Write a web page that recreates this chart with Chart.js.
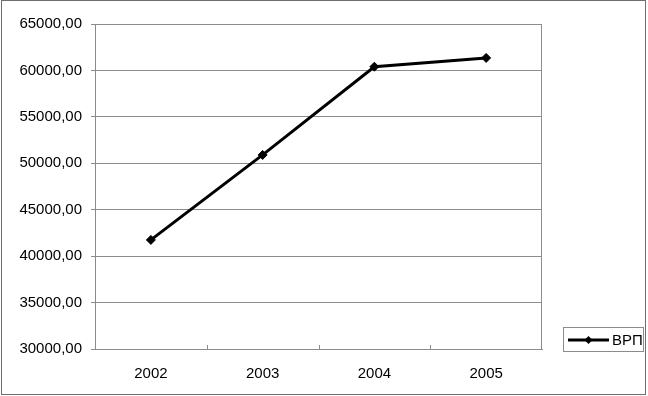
<!DOCTYPE html>
<html lang="ru">
<head>
  <meta charset="UTF-8">
  <title>ВРП</title>
  <script src="https://cdn.jsdelivr.net/npm/chart.js"></script>
  <style>
    html, body { margin: 0; padding: 0; background: #fff; }
    canvas { display: block; }
  </style>
</head>
<body>
  <canvas id="vrpChart" width="648" height="396"></canvas>

  <script>
    // data
    const years = ['2002', '2003', '2004', '2005'];
    const vrp = [41750, 50900, 60400, 61350];
    const seriesName = 'ВРП';

    const FONT = '"Liberation Sans", Arial, sans-serif';
    const GRID = '#8c8c8c';

    // frame round the whole picture, plot-area right edge, inner x ticks, boxed legend
    const extras = {
      id: 'extras',
      beforeDraw(chart) {
        const c = chart.ctx;
        c.save();
        c.fillStyle = '#fff';
        c.fillRect(0, 0, chart.width, chart.height);
        c.restore();
      },
      afterDraw(chart) {
        const c = chart.ctx;
        const x = chart.scales.x;
        const area = chart.chartArea;
        c.save();
        c.strokeStyle = '#6e6e6e';
        c.lineWidth = 1;
        c.strokeRect(1.5, 0.5, 644, 394);

        // right edge of the plot area
        c.strokeStyle = GRID;
        const rx = Math.round(area.right) - 0.5;
        c.beginPath();
        c.moveTo(rx, area.top);
        c.lineTo(rx, area.bottom);
        c.stroke();

        // small ticks between categories, pointing up
        const n = years.length;
        for (let i = 1; i < n; i++) {
          const px = Math.round((x.getPixelForValue(i - 1) + x.getPixelForValue(i)) / 2) + 0.5;
          c.beginPath();
          c.moveTo(px, x.top);
          c.lineTo(px, x.top - 4);
          c.stroke();
        }

        // legend
        c.strokeStyle = '#8c8c8c';
        c.strokeRect(563.5, 327.5, 80, 24);
        c.strokeStyle = '#000';
        c.lineWidth = 3;
        c.beginPath();
        c.moveTo(568, 340);
        c.lineTo(609, 340);
        c.stroke();
        c.fillStyle = '#000';
        c.beginPath();
        c.moveTo(588.5, 336);
        c.lineTo(592.5, 340);
        c.lineTo(588.5, 344);
        c.lineTo(584.5, 340);
        c.closePath();
        c.fill();
        c.font = '15px ' + FONT;
        c.textBaseline = 'middle';
        c.fillText(seriesName, 612, 340.5);
        c.restore();
      }
    };

    new Chart(document.getElementById('vrpChart'), {
      type: 'line',
      data: {
        labels: years,
        datasets: [{
          label: seriesName,
          data: vrp,
          borderColor: '#000',
          backgroundColor: '#000',
          borderWidth: 3,
          pointStyle: 'rectRot',
          pointRadius: 4.5,
          pointBorderWidth: 1,
          tension: 0,
          fill: false
        }]
      },
      options: {
        responsive: false,
        animation: false,
        layout: { padding: { left: 0, right: 106, top: 24, bottom: 0 } },
        plugins: {
          legend: { display: false },
          tooltip: { enabled: false }
        },
        scales: {
          x: {
            type: 'category',
            offset: true,
            grid: { display: false },
            border: { display: true, color: GRID, width: 1 },
            ticks: {
              color: '#000',
              font: { family: FONT, size: 15 },
              padding: 8
            },
            afterFit(scale) { scale.height = 47; }
          },
          y: {
            min: 30000,
            max: 65000,
            grid: {
              color: GRID,
              lineWidth: 1,
              tickLength: 4,
              drawTicks: true
            },
            border: { display: true, color: GRID, width: 1 },
            ticks: {
              stepSize: 5000,
              color: '#000',
              font: { family: FONT, size: 15 },
              padding: 9,
              callback: v => v.toFixed(2).replace('.', ',')
            },
            afterFit(scale) { scale.width = 95; }
          }
        }
      },
      plugins: [extras]
    });
  </script>
</body>
</html>
